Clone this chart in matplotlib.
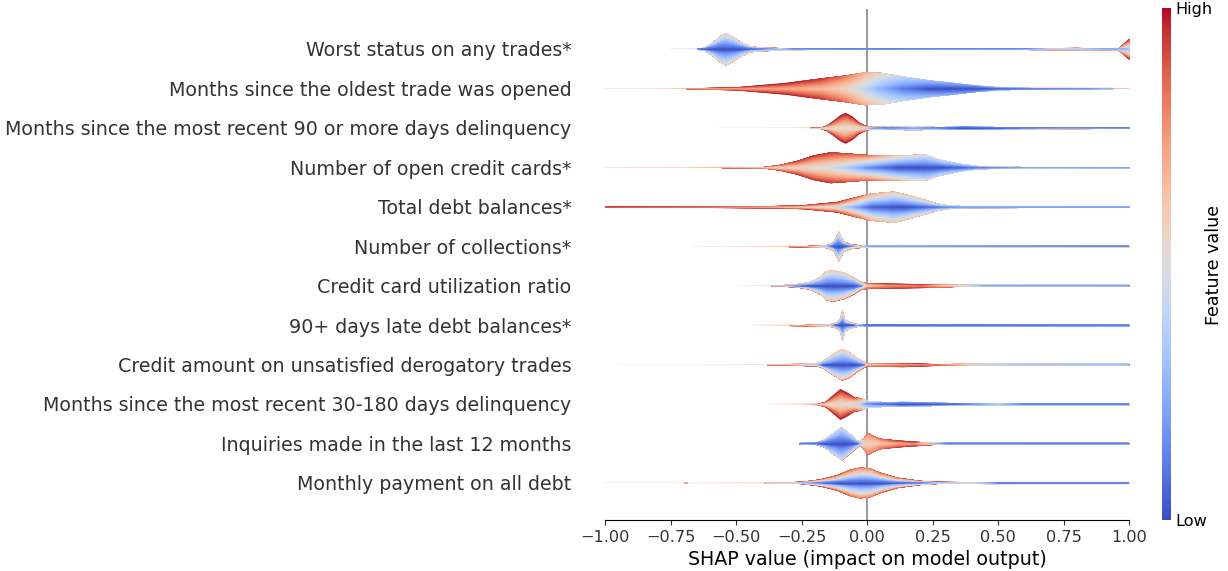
import numpy as np
import matplotlib
matplotlib.use("Agg")
import matplotlib.pyplot as plt

features = [
    "Worst status on any trades*",
    "Months since the oldest trade was opened",
    "Months since the most recent 90 or more days delinquency",
    "Number of open credit cards*",
    "Total debt balances*",
    "Number of collections*",
    "Credit card utilization ratio",
    "90+ days late debt balances*",
    "Credit amount on unsatisfied derogatory trades",
    "Months since the most recent 30-180 days delinquency",
    "Inquiries made in the last 12 months",
    "Monthly payment on all debt",
]

# SHAP value knots along each violin
knot_x = [
    [-0.75, -0.65, -0.62, -0.59, -0.56, -0.54, -0.51, -0.48, -0.445, -0.40, -0.33, -0.28, 0.0, 0.6, 0.7, 0.8, 0.9, 0.96, 1.0],
    [-1.0, -0.80, -0.70, -0.50, -0.31, -0.18, -0.09, -0.01, 0.05, 0.14, 0.245, 0.32, 0.40, 0.50, 0.63, 0.84, 1.0],
    [-0.57, -0.30, -0.18, -0.155, -0.13, -0.103, -0.084, -0.058, -0.032, -0.006, 0.013, 0.08, 0.18, 0.27, 0.37, 0.53, 0.71, 1.0],
    [-1.0, -0.68, -0.40, -0.335, -0.27, -0.206, -0.14, -0.077, 0.0, 0.116, 0.22, 0.27, 0.35, 0.425, 0.59, 1.0],
    [-1.0, -0.63, -0.37, -0.245, -0.116, -0.039, 0.013, 0.10, 0.14, 0.206, 0.27, 0.31, 0.375, 1.0],
    [-0.67, -0.40, -0.245, -0.155, -0.13, -0.118, -0.11, -0.10, -0.09, -0.065, -0.026, 0.0, 1.0],
    [-0.49, -0.32, -0.26, -0.22, -0.18, -0.155, -0.13, -0.09, -0.052, -0.026, 0.0, 0.077, 0.206, 0.335, 0.45, 1.0],
    [-0.44, -0.245, -0.14, -0.116, -0.103, -0.095, -0.087, -0.08, -0.058, -0.039, 0.0, 1.0],
    [-0.95, -0.53, -0.30, -0.19, -0.168, -0.13, -0.097, -0.071, -0.039, -0.013, 0.0, 0.14, 0.27, 0.40, 0.55, 1.0],
    [-0.38, -0.19, -0.16, -0.135, -0.103, -0.077, -0.052, -0.026, 0.0, 0.077, 0.13, 0.206, 0.335, 0.5, 0.6, 1.0],
    [-0.26, -0.19, -0.16, -0.13, -0.097, -0.065, -0.039, -0.026, -0.013, 0.003, 0.026, 0.05, 0.116, 0.18, 0.245, 0.30, 1.0],
    [-1.0, -0.70, -0.69, -0.68, -0.44, -0.31, -0.245, -0.18, -0.116, -0.065, -0.026, 0.013, 0.05, 0.116, 0.206, 0.27, 0.40, 0.50, 1.0],
]

# half-width of the violin (in row units) at each knot
knot_width = [
    [0.004, 0.008, 0.04, 0.17, 0.34, 0.40, 0.30, 0.17, 0.07, 0.045, 0.03, 0.015, 0.011, 0.011, 0.03, 0.035, 0.025, 0.03, 0.27],
    [0.003, 0.004, 0.008, 0.04, 0.15, 0.26, 0.33, 0.41, 0.40, 0.30, 0.20, 0.15, 0.086, 0.034, 0.017, 0.012, 0.008],
    [0.002, 0.004, 0.012, 0.07, 0.19, 0.33, 0.39, 0.30, 0.15, 0.06, 0.035, 0.03, 0.05, 0.026, 0.04, 0.026, 0.02, 0.013],
    [0.003, 0.005, 0.015, 0.07, 0.17, 0.31, 0.39, 0.36, 0.32, 0.31, 0.33, 0.21, 0.10, 0.034, 0.016, 0.014],
    [0.017, 0.017, 0.026, 0.05, 0.13, 0.26, 0.34, 0.39, 0.33, 0.21, 0.086, 0.043, 0.02, 0.015],
    [0.002, 0.005, 0.012, 0.034, 0.10, 0.25, 0.38, 0.25, 0.13, 0.06, 0.03, 0.018, 0.015],
    [0.003, 0.012, 0.043, 0.086, 0.21, 0.36, 0.39, 0.33, 0.21, 0.10, 0.07, 0.06, 0.05, 0.02, 0.015, 0.015],
    [0.003, 0.012, 0.03, 0.07, 0.17, 0.38, 0.17, 0.12, 0.06, 0.03, 0.015, 0.014],
    [0.002, 0.005, 0.012, 0.034, 0.086, 0.26, 0.39, 0.33, 0.17, 0.07, 0.043, 0.05, 0.02, 0.015, 0.015, 0.015],
    [0.003, 0.012, 0.07, 0.21, 0.39, 0.30, 0.19, 0.154, 0.086, 0.05, 0.06, 0.043, 0.02, 0.015, 0.014, 0.014],
    [0.009, 0.026, 0.10, 0.26, 0.41, 0.24, 0.086, 0.05, 0.154, 0.28, 0.19, 0.13, 0.086, 0.06, 0.026, 0.015, 0.014],
    [0.003, 0.004, 0.015, 0.004, 0.008, 0.012, 0.03, 0.086, 0.19, 0.33, 0.39, 0.36, 0.26, 0.13, 0.05, 0.026, 0.018, 0.015, 0.014],
]

# feature value (0 = low, 1 = high) found at the centre of the violin
color_inner = [
    [0.3, 0.1, 0.0, 0.0, 0.0, 0.0, 0.0, 0.0, 0.05, 0.1, 0.3, 0.1, 0.1, 0.1, 0.3, 0.3, 0.2, 0.2, 0.3],
    [0.7, 0.7, 0.7, 0.72, 0.7, 0.65, 0.55, 0.4, 0.25, 0.1, 0.0, 0.0, 0.0, 0.05, 0.1, 0.15, 0.3],
    [0.5, 0.5, 0.5, 0.5, 0.5, 0.5, 0.5, 0.5, 0.5, 0.4, 0.2, 0.1, 0.2, 0.1, 0.0, 0.05, 0.1, 0.1],
    [0.7, 0.7, 0.6, 0.55, 0.55, 0.5, 0.45, 0.35, 0.15, 0.0, 0.0, 0.0, 0.05, 0.1, 0.2, 0.2],
    [0.85, 0.8, 0.7, 0.6, 0.45, 0.2, 0.05, 0.0, 0.0, 0.05, 0.1, 0.15, 0.2, 0.2],
    [0.6, 0.7, 0.7, 0.3, 0.0, 0.0, 0.0, 0.0, 0.0, 0.1, 0.5, 0.2, 0.1],
    [0.5, 0.3, 0.1, 0.0, 0.0, 0.0, 0.0, 0.0, 0.0, 0.1, 0.6, 0.75, 0.8, 0.5, 0.2, 0.2],
    [0.6, 0.7, 0.3, 0.0, 0.0, 0.0, 0.0, 0.0, 0.0, 0.2, 0.05, 0.1],
    [0.5, 0.5, 0.6, 0.3, 0.0, 0.0, 0.0, 0.0, 0.0, 0.1, 0.6, 0.75, 0.8, 0.45, 0.3, 0.25],
    [0.6, 0.6, 0.5, 0.5, 0.5, 0.5, 0.45, 0.35, 0.15, 0.05, 0.0, 0.0, 0.05, 0.3, 0.1, 0.1],
    [0.1, 0.05, 0.0, 0.0, 0.0, 0.0, 0.05, 0.2, 0.5, 0.55, 0.55, 0.6, 0.7, 0.75, 0.3, 0.1, 0.1],
    [0.6, 0.6, 0.6, 0.6, 0.6, 0.5, 0.3, 0.1, 0.0, 0.0, 0.0, 0.0, 0.0, 0.05, 0.1, 0.3, 0.4, 0.1, 0.1],
]

# feature value found at the outer edge of the violin
color_outer = [
    [0.6, 0.6, 0.55, 0.55, 0.55, 0.55, 0.55, 0.55, 0.6, 0.7, 0.75, 0.4, 0.25, 0.4, 0.95, 0.95, 0.9, 0.95, 1.0],
    [0.9, 0.95, 1.0, 1.0, 1.0, 0.95, 0.85, 0.68, 0.55, 0.4, 0.3, 0.25, 0.2, 0.3, 0.3, 0.35, 0.5],
    [0.6, 0.8, 0.95, 1.0, 1.0, 1.0, 1.0, 1.0, 1.0, 0.95, 0.7, 0.35, 0.6, 0.35, 0.25, 0.35, 0.6, 0.2],
    [0.8, 0.85, 0.9, 0.9, 0.95, 0.95, 0.95, 0.9, 0.85, 0.6, 0.5, 0.45, 0.4, 0.4, 0.5, 0.3],
    [1.0, 0.95, 0.95, 1.0, 0.95, 0.85, 0.7, 0.6, 0.6, 0.6, 0.6, 0.5, 0.3, 0.25],
    [0.7, 0.85, 0.9, 0.8, 0.65, 0.6, 0.6, 0.6, 0.65, 0.8, 0.9, 0.35, 0.25],
    [0.6, 0.7, 0.65, 0.6, 0.6, 0.6, 0.6, 0.6, 0.6, 0.7, 0.9, 0.95, 1.0, 0.7, 0.35, 0.3],
    [0.7, 0.85, 0.75, 0.65, 0.6, 0.6, 0.6, 0.6, 0.65, 0.7, 0.2, 0.2],
    [0.55, 0.6, 0.8, 0.7, 0.6, 0.6, 0.6, 0.6, 0.6, 0.65, 0.9, 0.95, 1.0, 0.55, 0.4, 0.35],
    [0.7, 0.9, 1.0, 1.0, 1.0, 1.0, 0.95, 0.8, 0.5, 0.35, 0.3, 0.25, 0.2, 0.45, 0.2, 0.2],
    [0.2, 0.3, 0.4, 0.45, 0.45, 0.45, 0.5, 0.65, 0.8, 0.8, 0.8, 0.85, 0.95, 1.0, 0.9, 0.2, 0.2],
    [0.65, 0.7, 0.8, 0.7, 0.8, 0.9, 0.95, 0.95, 0.9, 0.85, 0.8, 0.8, 0.85, 0.9, 0.95, 0.95, 0.9, 0.2, 0.2],
]

x_ticks = [-1.00, -0.75, -0.50, -0.25, 0.00, 0.25, 0.50, 0.75, 1.00]

axis_color = "#333333"
cmap = plt.get_cmap("coolwarm")

fig = plt.figure(figsize=(12.28, 5.71), dpi=100)
ax = fig.add_axes([605 / 1228, 1 - 520 / 571, 524 / 1228, 511 / 571])

n = len(features)
nlayers = 60
thin = 0.01
for k in range(n):
    pos = n - 1 - k
    kx = np.array(knot_x[k])
    xs = np.linspace(kx[0], kx[-1], 1200)
    w = np.interp(xs, kx, knot_width[k])
    lo = np.interp(xs, kx, color_inner[k])
    hi = np.interp(xs, kx, color_outer[k])
    span = np.maximum(hi - lo, 0.04)
    # very thin tails: a single faint layer
    tail = w < thin
    if tail.any():
        mid = float(np.mean(((lo + hi) / 2)[tail]))
        ax.fill_between(xs, pos - w, pos + w, where=w <= thin * 1.05,
                        facecolor=cmap(mid), edgecolor="none", linewidth=0)
    body = w >= thin * 0.95
    for t in np.linspace(1, 0, nlayers):
        r = np.clip((t - lo) / span, 0, 1)
        y = w * r
        mask = (y > 1e-4) & body
        if not mask.any():
            continue
        ax.fill_between(xs, pos - y, pos + y, where=mask, facecolor=cmap(t),
                        edgecolor="face", linewidth=0.12)

ax.axvline(0, color="#999999", zorder=-1, linewidth=1.4)

fs = 13.7
ax.set_xlim(-1, 1)
ax.set_ylim(-0.94, 12.01)
ax.set_xticks(x_ticks)
ax.set_xticklabels([f"{v:.2f}".replace("-", "\u2212") for v in x_ticks])
ax.set_yticks(range(n))
ax.set_yticklabels(features[::-1], fontsize=fs)
ax.xaxis.set_ticks_position("bottom")
ax.yaxis.set_ticks_position("none")
for s in ["right", "top", "left"]:
    ax.spines[s].set_visible(False)
ax.tick_params(color=axis_color, labelcolor=axis_color)
ax.tick_params("y", length=0, pad=24)
ax.tick_params("x", labelsize=11.6)
ax.set_xlabel("SHAP value (impact on model output)", fontsize=fs)

cax = fig.add_axes([1162 / 1228, 1 - 520 / 571, 9 / 1228, 512 / 571])
sm = matplotlib.cm.ScalarMappable(cmap=cmap, norm=matplotlib.colors.Normalize(0, 1))
cb = fig.colorbar(sm, cax=cax, ticks=[0, 1])
cb.set_ticklabels(["Low", "High"])
cb.ax.tick_params(labelsize=11.6, length=0)
cb.outline.set_visible(False)
fig.text(1214 / 1228, 1 - 265 / 571, "Feature value", rotation=90,
         ha="center", va="center", fontsize=12.6)

fig.savefig("out.png", dpi=100)
